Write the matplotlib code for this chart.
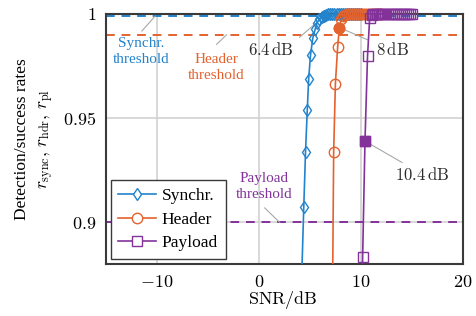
import matplotlib
matplotlib.use('Agg')
import matplotlib.pyplot as plt
from matplotlib.lines import Line2D
import numpy as np

# ---------------- data ----------------
sync_snr = [4.0, 4.2, 4.39, 4.56, 4.73, 4.87, 5.05, 5.27, 5.5, 5.7, 5.9, 6.15, 6.4, 6.6, 6.8,
            7.0, 7.2, 7.4, 7.6, 7.8, 8.0, 8.2, 8.4, 8.6, 8.8, 9.0, 9.2, 9.4, 9.6, 9.8, 10.0]
sync_rate = [0.83, 0.876, 0.9074, 0.9337, 0.9537, 0.9689, 0.9803, 0.9883, 0.9926, 0.9959, 0.9975,
             0.9985, 0.9991, 0.9995, 0.9998,
             1.0, 1.0, 1.0, 1.0, 1.0, 1.0, 1.0, 1.0, 1.0, 1.0, 1.0, 1.0, 1.0, 1.0, 1.0, 1.0]

hdr_snr = [7.15, 7.32, 7.49, 7.71, 7.88, 8.05, 8.25, 8.45,
           8.6, 8.8, 9.0, 9.2, 9.4, 9.6, 9.8, 10.0, 10.2, 10.4, 10.6, 10.8, 11.0, 11.2, 11.4, 11.6, 11.8, 12.0]
hdr_rate = [0.83, 0.9337, 0.9666, 0.9841, 0.9935, 0.9975, 0.999, 0.9996,
            1.0, 1.0, 1.0, 1.0, 1.0, 1.0, 1.0, 1.0, 1.0, 1.0, 1.0, 1.0, 1.0, 1.0, 1.0, 1.0, 1.0, 1.0]

pl_snr = [9.96, 10.16, 10.39, 10.64, 10.85, 11.05,
          11.2, 11.4, 11.6, 11.8, 12.0, 12.2, 12.4, 12.6, 12.8, 13.0, 13.2, 13.4, 13.6, 13.8,
          14.0, 14.2, 14.4, 14.6, 14.8, 15.0]
pl_rate = [0.80, 0.8832, 0.939, 0.9798, 0.998, 0.9997,
           1.0, 1.0, 1.0, 1.0, 1.0, 1.0, 1.0, 1.0, 1.0, 1.0, 1.0, 1.0, 1.0, 1.0,
           1.0, 1.0, 1.0, 1.0, 1.0, 1.0]

series_names = ['Synchr.', 'Header', 'Payload']
thresholds = [0.999, 0.99, 0.9]
req_snr = [6.4, 7.88, 10.39]
req_rate = [0.9991, 0.9935, 0.939]
req_labels = ['6.4', '8', '10.4']

x_ticks = [-10, 0, 10, 20]
x_tick_labels = ['$-10$', '$0$', '$10$', '$20$']
y_ticks = [0.9, 0.95, 1.0]
y_tick_labels = ['$0.9$', '$0.95$', '$1$']

# ---------------- style ----------------
plt.rcParams['mathtext.fontset'] = 'cm'
plt.rcParams['font.family'] = ['Liberation Serif', 'DejaVu Serif']

colors = ['#2383cc', '#e3622e', '#83329a']
markers = ['d', 'o', 's']
msizes = [6.5, 7.5, 7.0]
grey = '#a8a8a8'

fig = plt.figure(figsize=(4.77, 3.16), dpi=100)
W, H = 477, 316
ax = fig.add_axes([106 / W, 1 - 264 / H, (463 - 106) / W, (264 - 14) / H])
ax.set_xlim(-15, 20)
ax.set_ylim(0.88, 1.0)

ax.set_xticks(x_ticks)
ax.set_xticklabels(x_tick_labels, fontsize=13)
ax.set_yticks(y_ticks)
ax.set_yticklabels(y_tick_labels, fontsize=13)
ax.tick_params(length=0, pad=7)
ax.grid(True, color='#d2d2d2', linewidth=1.2)
ax.set_axisbelow(True)
for sp in ax.spines.values():
    sp.set_color('#3a3a3a')
    sp.set_linewidth(1.5)

# threshold lines
for th, c in zip(thresholds, colors):
    ax.axhline(th, color=c, linestyle=(0, (4.5, 3.5)), linewidth=1.4, zorder=2)

# curves
data = [(sync_snr, sync_rate), (hdr_snr, hdr_rate), (pl_snr, pl_rate)]
ymin = ax.get_ylim()[0]
handles = []
for (xs, ys), c, m, ms, name in zip(data, colors, markers, msizes, series_names):
    xs = np.asarray(xs)
    ys = np.asarray(ys)
    ax.plot(xs, ys, color=c, linewidth=1.2, zorder=3)
    mask = ys >= ymin
    ax.plot(xs[mask], ys[mask], linestyle='none', marker=m, markersize=ms,
            markerfacecolor='none', markeredgecolor=c, markeredgewidth=1.0,
            clip_on=False, zorder=4)
    handles.append(Line2D([], [], color=c, linewidth=1.2, marker=m, markersize=ms,
                          markerfacecolor='white', markeredgecolor=c, markeredgewidth=1.0))

# required SNR points (filled)
for x, y, c, m, ms in zip(req_snr, req_rate, colors, markers, msizes):
    ax.plot([x], [y], linestyle='none', marker=m, markersize=ms, color=c,
            clip_on=False, zorder=5)


def px2d(px, py):
    return (px - 259.3) / 10.24, 1.0 - (py - 14.7) / 2080.0


def pin(start_px, end, txt, txt_px, color, ha='center', fs=12, ls=1.05):
    sx, sy = px2d(*start_px)
    ax.plot([sx, end[0]], [sy, end[1]], color=grey, linewidth=0.8, zorder=2.5,
            clip_on=False)
    tx, ty = px2d(*txt_px)
    ax.text(tx, ty, txt, color=color, ha=ha, va='center', fontsize=fs,
            linespacing=ls, zorder=6)


dark = '#2b2b2b'
# required SNR annotations
pin((300, 38), (req_snr[0], req_rate[0]), r'$%s\,\mathrm{dB}$' % req_labels[0], (271.3, 51.0), dark)
pin((369, 40.7), (req_snr[1], req_rate[1]), r'$%s\,\mathrm{dB}$' % req_labels[1], (376.5, 51.0), dark, ha='left')
pin((403, 163), (req_snr[2], req_rate[2]), r'$%s\,\mathrm{dB}$' % req_labels[2], (423, 176.0), dark)

# threshold annotations
pin((141.7, 31.7), px2d(155, 0)[:1] + (thresholds[0],), 'Synchr.\nthreshold', (141, 52.5), colors[0], fs=11, ls=1.3)
pin((216.7, 45), px2d(226.7, 0)[:1] + (thresholds[1],), 'Header\nthreshold', (216.7, 68.5), colors[1], fs=11, ls=1.3)
pin((265, 208.3), px2d(280, 0)[:1] + (thresholds[2],), 'Payload\nthreshold', (264, 187), colors[2], fs=11, ls=1.3)

# legend
leg = ax.legend(handles, series_names, loc='lower left', bbox_to_anchor=(0.013, 0.02),
                borderaxespad=0, fontsize=12.5, handlelength=2.15, handletextpad=0.35,
                labelspacing=0.42, borderpad=0.45, fancybox=False, framealpha=1,
                edgecolor='#3a3a3a')
leg.get_frame().set_linewidth(1.0)
leg.set_zorder(10)

# axis labels
fig.text(283 / W, 1 - 300 / H, r'$\mathrm{SNR}/\mathrm{dB}$', ha='center', va='center', fontsize=13)
fig.text(21.7 / W, 1 - 139 / H, 'Detection/success rates', rotation=90,
         ha='center', va='center', fontsize=12.5)
fig.text(46.7 / W, 1 - 139 / H, r'$r_\mathrm{sync},\, r_\mathrm{hdr},\, r_\mathrm{pl}$',
         rotation=90, ha='center', va='center', fontsize=12.5)

fig.savefig('out.png', dpi=100)
